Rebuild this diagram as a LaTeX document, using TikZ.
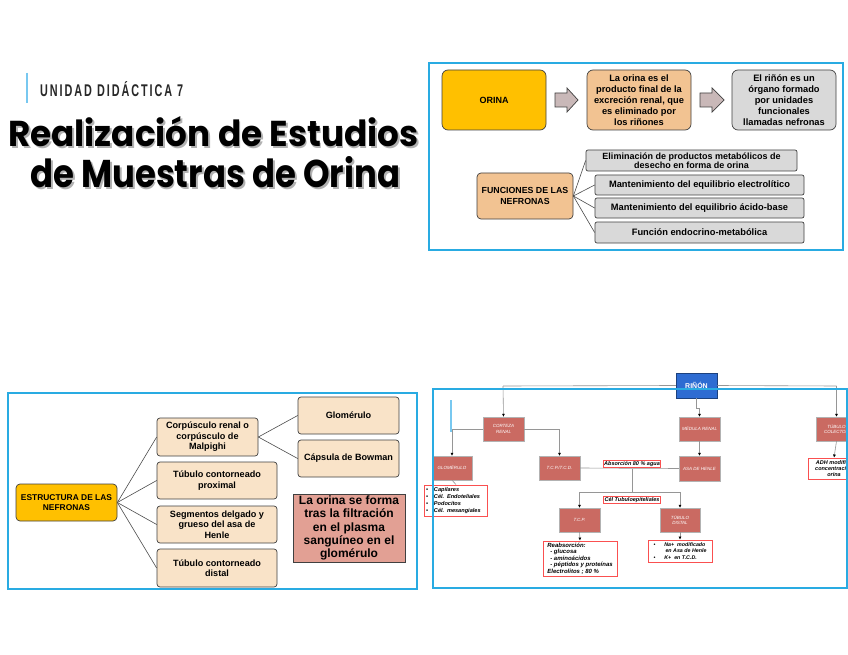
\documentclass[tikz,border=0pt]{standalone}
\usepackage{fontspec}
\setmainfont{Liberation Sans}
\newfontfamily\titlefont{Poppins}
\usetikzlibrary{arrows.meta}
\definecolor{frameblue}{RGB}{41,171,226}
\definecolor{barblue}{RGB}{120,200,240}
\definecolor{oyellow}{RGB}{255,192,0}
\definecolor{otan}{RGB}{242,195,146}
\definecolor{ogray}{RGB}{217,217,217}
\definecolor{arrowfill}{RGB}{201,184,184}
\definecolor{peach}{RGB}{249,227,200}
\definecolor{salmon}{RGB}{226,160,148}
\definecolor{redbox}{RGB}{202,106,98}
\definecolor{kidney}{RGB}{46,108,210}
\definecolor{labelred}{RGB}{250,80,80}
\definecolor{conn}{RGB}{150,150,150}
\definecolor{titlegray}{RGB}{40,40,40}
\begin{document}
\begin{tikzpicture}[x=1pt,y=-1pt,
  frame/.style={draw=frameblue,line width=2pt},
  rbox/.style={draw=black!75,line width=0.7pt,rounded corners=4pt,align=center,inner sep=1pt,font=\bfseries\fontsize{9.3}{11}\selectfont},
  ibox/.style={rbox,fill=ogray,rounded corners=2pt,font=\bfseries\fontsize{9.3}{9.8}\selectfont},
  sbox/.style={rbox,fill=peach,rounded corners=3pt,font=\bfseries\fontsize{9.1}{10.5}\selectfont},
  link/.style={draw=black!70,line width=0.6pt},
  kbox/.style={fill=redbox,draw=black!30,line width=0.4pt,minimum width=41,minimum height=24,inner sep=0.5pt,align=center,text=white,font=\itshape\fontsize{4.5}{5.5}\selectfont},
  note/.style={draw=labelred,line width=0.9pt,fill=white,inner sep=1.2pt,align=left,font=\bfseries\itshape\fontsize{5.5}{6.3}\selectfont},
  karrow/.style={draw=conn,line width=0.6pt,-{Latex[length=3pt,width=3pt,color=black]}},
  kline/.style={draw=conn,line width=0.6pt},
  block/.style={fill=arrowfill,draw=black!75,line width=0.7pt}
]
\useasboundingbox (0,0) rectangle (848,655);
\fill[white] (0,0) rectangle (848,655);

% ---------------- title ----------------
\draw[barblue,line width=2pt] (27,73) -- (27,103);
\node[anchor=base west,inner sep=0,text=titlegray] (sub) at (40,97)
  {\resizebox{143pt}{15pt}{\addfontfeatures{LetterSpace=18}\bfseries UNIDAD DIDÁCTICA 7}};
\node[anchor=base west,inner sep=0,text=black!30] (t1s) at (9.8,148.8)
  {\resizebox{410pt}{30pt}{\titlefont\bfseries Realización de Estudios}};
\node[anchor=base west,inner sep=0] (t1) at (8,147)
  {\resizebox{410pt}{30pt}{\titlefont\bfseries Realización de Estudios}};
\node[anchor=base west,inner sep=0,text=black!30] (t2s) at (31.8,189.8)
  {\resizebox{370pt}{31pt}{\titlefont\bfseries de Muestras de Orina}};
\node[anchor=base west,inner sep=0] (t2) at (30,188)
  {\resizebox{370pt}{31pt}{\titlefont\bfseries de Muestras de Orina}};

% ---------------- top right panel ----------------
\node[rbox,fill=oyellow,minimum width=104,minimum height=60,rounded corners=6pt,font=\bfseries\fontsize{9}{11}\selectfont] (orina) at (494,100) {ORINA};
\node[rbox,fill=otan,minimum width=104,minimum height=60,rounded corners=6pt] (def) at (639,100)
  {La orina es el\\producto final de la\\excreción renal, que\\es eliminado por\\los riñones};
\node[rbox,fill=ogray,minimum width=104,minimum height=60,rounded corners=6pt] (rinon1) at (784,100)
  {El riñón es un\\órgano formado\\por unidades\\funcionales\\llamadas nefronas};
\draw[block] (555,93) -- (567,93) -- (567,88) -- (578,100) -- (567,112) -- (567,107) -- (555,107) -- cycle;
\draw[block] (700,93) -- (712,93) -- (712,88) -- (724,100) -- (712,112) -- (712,107) -- (700,107) -- cycle;

\node[rbox,fill=otan,minimum width=96,minimum height=46,font=\bfseries\fontsize{8.8}{10.5}\selectfont] (func) at (525,196)
  {FUNCIONES DE LAS\\NEFRONAS};
\node[ibox,minimum width=211,minimum height=21,inner sep=0.5pt,font=\bfseries\fontsize{9}{9.2}\selectfont] (f1) at (691.5,160.5)
  {Eliminación de productos metabólicos de\\desecho en forma de orina};
\node[ibox,minimum width=209,minimum height=20] (f2) at (699.5,185) {Mantenimiento del equilibrio electrolítico};
\node[ibox,minimum width=209,minimum height=20] (f3) at (699.5,208) {Mantenimiento del equilibrio ácido-base};
\node[ibox,minimum width=209,minimum height=21] (f4) at (699.5,232.5) {Función endocrino-metabólica};
\foreach \t in {f1,f2,f3,f4} \draw[link] (func.east) -- (\t.west);
\draw[frame] (429,63) rectangle (843,250);

% ---------------- bottom left panel ----------------
\node[rbox,fill=oyellow,minimum width=101,minimum height=37,font=\bfseries\fontsize{8.4}{10}\selectfont] (estr) at (66.5,502.5)
  {ESTRUCTURA DE LAS\\NEFRONAS};
\node[sbox,minimum width=101,minimum height=38] (corp) at (207.5,437)
  {Corpúsculo renal o\\corpúsculo de\\Malpighi};
\node[sbox,minimum width=120,minimum height=37] (prox) at (217,480.5)
  {Túbulo contorneado\\proximal};
\node[sbox,minimum width=120,minimum height=37] (segm) at (217,524.5)
  {Segmentos delgado y\\grueso del asa de\\Henle};
\node[sbox,minimum width=120,minimum height=38] (dist) at (217,568)
  {Túbulo contorneado\\distal};
\node[sbox,minimum width=101,minimum height=37] (glom1) at (348.5,415.5) {Glomérulo};
\node[sbox,minimum width=101,minimum height=37] (caps) at (348.5,458.5) {Cápsula de Bowman};
\node[draw=black!75,line width=0.9pt,fill=salmon,minimum width=112,minimum height=68,align=center,inner sep=0.5pt,
  font=\bfseries\fontsize{12}{13.3}\selectfont] (pink) at (349,528)
  {La orina se forma\\tras la filtración\\en el plasma\\sanguíneo en el\\glomérulo};
\foreach \t in {corp,prox,segm,dist} \draw[link] (estr.east) -- (\t.west);
\draw[link] (corp.east) -- (glom1.west);
\draw[link] (corp.east) -- (caps.west);
\draw[frame] (8,393) rectangle (417,589);

% ---------------- bottom right panel ----------------
\begin{scope}
\clip (0,0) rectangle (848,655);
\draw[barblue,line width=1.5pt] (451,400) -- (451,432);
\node[fill=kidney,draw=kidney!60!black,line width=0.5pt,minimum width=41,minimum height=25,inner sep=0.5pt,text=white,
  font=\bfseries\fontsize{7}{8}\selectfont] (rin) at (696.5,385.5) {RIÑÓN};
\node[kbox] (cort) at (503.5,429) {CORTEZA\\RENAL};
\node[kbox] (med) at (699.5,429) {MÉDULA RENAL};
\node[kbox] (col) at (836.5,429) {TÚBULO\\COLECTOR};
\node[kbox,minimum width=40] (glom) at (452,468) {GLOMÉRULO};
\node[kbox] (tcpd) at (559.5,468) {T.C.P./T.C.D.};
\node[kbox,minimum height=25] (asa) at (699.5,468.5) {ASA DE HENLE};
\node[kbox] (tcp) at (579.5,520) {T.C.P.};
\node[kbox,minimum width=40] (tdis) at (680,520) {TÚBULO\\DISTAL};

\draw[kline] (rin.west) -- (503,386);
\draw[karrow] (503,386) -- (cort.north);
\draw[kline] (rin.east) -- (836.5,386);
\draw[karrow] (836.5,386) -- (col.north);
\draw[karrow] (rin.south) -- ++(0,10) -| (med.north);
\draw[karrow] (cort.west) -| (glom.north);
\draw[karrow] (cort.east) -| (tcpd.north);
\draw[karrow] (med.south) -- (asa.north);
\draw[kline] (tcpd.east) -- (asa.west);
\coordinate (mid) at (632,468.5);
\coordinate (split) at (632,492);
\draw[kline] (mid) -- (split);
\draw[karrow] (split) -| (tcp.north);
\draw[karrow] (split) -| (tdis.north);
\node[note,inner sep=1pt] (abs) at (632,464) {Absorción 80 \% agua};
\node[note,inner sep=1pt] (cel) at (632,500) {Cél Tubuloepiteliales};

\node[note,text width=60,minimum height=31,font=\bfseries\itshape\fontsize{5.6}{7}\selectfont] (gitems) at (456,500.5)
  {\textbullet\hspace{6pt}Capilares\\\textbullet\hspace{6pt}Cél. Endoteliales\\\textbullet\hspace{6pt}Podocitos\\\textbullet\hspace{6pt}Cél. mesangiales};
\node[note,minimum width=74,minimum height=35,font=\bfseries\itshape\fontsize{6}{6.6}\selectfont] (reab) at (580,558.5)
  {Reabsorción:\\\hspace{3pt}- glucosa\\\hspace{3pt}- aminoácidos\\\hspace{3pt}- péptidos y proteínas\\Electrolitos ; 80 \%};
\node[note,minimum width=64,minimum height=22,font=\bfseries\itshape\fontsize{5.3}{6.5}\selectfont] (na) at (680,551)
  {\textbullet\hspace{9pt}Na+ \ modificado\\\hspace{12pt}en Asa de Henle\\\textbullet\hspace{9pt}K+ \ en T.C.D.};
\node[note,minimum width=52,minimum height=21,align=center] (adh) at (834,468.5)
  {ADH modifica\\concentración\\orina};
\draw[kline] (glom.south) -- (gitems.north);
\draw[karrow] (tcp.south) -- (reab.north);
\draw[karrow] (tdis.south) -- (na.north);
\draw[karrow] (col.south) -- (adh.north);
\draw[frame] (433,389) rectangle (847,588);
\end{scope}
\end{tikzpicture}
\end{document}
